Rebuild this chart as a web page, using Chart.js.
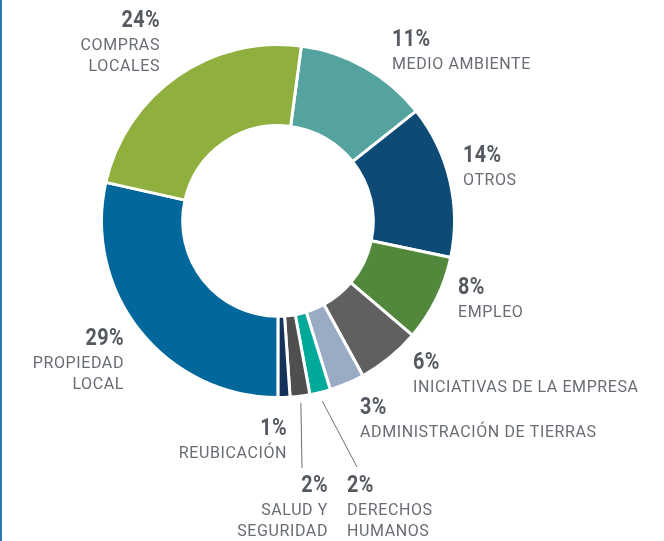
<!DOCTYPE html>
<html>
<head>
<meta charset="utf-8">
<script src="https://cdn.jsdelivr.net/npm/chart.js@4/dist/chart.umd.min.js"></script>
<style>
  html, body { margin: 0; padding: 0; background: #fff; }
  #wrap { width: 664px; height: 541px; position: relative; }
</style>
</head>
<body>
<div id="wrap"><canvas id="chart" width="664" height="541"></canvas></div>
<script>
// clockwise from the top
const categories = ["MEDIO AMBIENTE", "OTROS", "EMPLEO", "INICIATIVAS DE LA EMPRESA", "ADMINISTRACIÓN DE TIERRAS",
  "DERECHOS\nHUMANOS", "SALUD Y\nSEGURIDAD", "REUBICACIÓN", "PROPIEDAD\nLOCAL", "COMPRAS\nLOCALES"];
const shares = [12.2, 14.0, 7.9, 5.8, 3.2, 1.9, 1.8, 1.1, 28.5, 23.6];
const pctLabels = ["11%", "14%", "8%", "6%", "3%", "2%", "2%", "1%", "29%", "24%"];
const colors = ["#55a39f", "#0d4a75", "#52883c", "#606060", "#9aabc4", "#00a99a", "#4f4f4f", "#15335a", "#02679a", "#8fb03f"];

// where each label sits (pct baseline), and end point of leader line if any
const labelPos = [
  { x: 392, y: 46, align: "left" },
  { x: 463, y: 162, align: "left" },
  { x: 458, y: 294, align: "left" },
  { x: 413, y: 369, align: "left" },
  { x: 360, y: 414, align: "left" },
  { x: 347, y: 492, align: "left", line: { x: 357, y: 467, r: 9 } },
  { x: 328, y: 492, align: "right", line: { x: 302, y: 468, r: 7 } },
  { x: 287, y: 435, align: "right" },
  { x: 124, y: 345, align: "right" },
  { x: 160, y: 27, align: "right" }
];

const labelsPlugin = {
  id: "sliceLabels",
  afterDraw(chart) {
    const ctx = chart.ctx;
    const meta = chart.getDatasetMeta(0);
    ctx.save();
    // left edge rule
    ctx.fillStyle = "#2a78ad";
    ctx.fillRect(0, 0, 2, chart.height);

    meta.data.forEach((arc, i) => {
      const p = labelPos[i];
      // leader line
      if (p.line) {
        const mid = (arc.startAngle + arc.endAngle) / 2;
        const r = arc.outerRadius + p.line.r;
        ctx.beginPath();
        ctx.moveTo(arc.x + Math.cos(mid) * r, arc.y + Math.sin(mid) * r);
        ctx.lineTo(p.line.x, p.line.y);
        ctx.strokeStyle = "#6b6f75";
        ctx.lineWidth = 1;
        ctx.stroke();
      }
      // percentage
      ctx.save();
      ctx.translate(p.x, p.y);
      ctx.scale(0.86, 1);
      ctx.font = "700 23px Roboto";
      ctx.letterSpacing = "0.5px";
      ctx.fillStyle = "#555a61";
      ctx.textAlign = p.align;
      ctx.textBaseline = "alphabetic";
      ctx.fillText(pctLabels[i], 0, 0);
      ctx.restore();
      // category name
      ctx.font = "400 16px Roboto";
      ctx.letterSpacing = "0.6px";
      ctx.fillStyle = "#686c73";
      ctx.textAlign = p.align;
      const lines = categories[i].split("\n");
      lines.forEach((ln, k) => {
        ctx.fillText(ln, p.x, p.y + 23 + k * 21);
      });
    });
    ctx.restore();
  }
};

window.onload = () => {
  const ctx = document.getElementById("chart").getContext("2d");
  new Chart(ctx, {
    type: "doughnut",
    data: {
      labels: categories,
      datasets: [{
        data: shares,
        backgroundColor: colors,
        borderColor: "#ffffff",
        borderWidth: 3,
        hoverOffset: 0
      }]
    },
    options: {
      responsive: false,
      animation: false,
      cutout: "54%",
      rotation: 7.6,
      layout: { padding: { left: 100, right: 208, top: 43, bottom: 142 } },
      plugins: {
        legend: { display: false },
        tooltip: { enabled: false }
      }
    },
    plugins: [labelsPlugin]
  });
};
</script>
</body>
</html>
